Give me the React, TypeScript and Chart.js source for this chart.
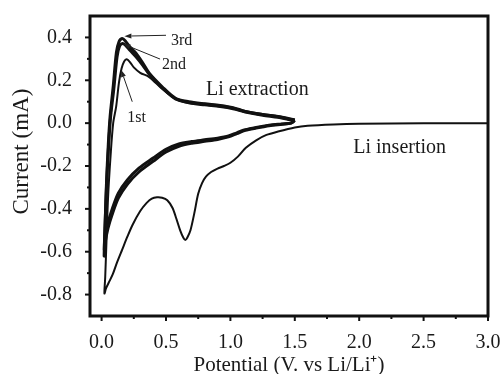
import React, { useEffect, useRef } from "react";
import { Chart, registerables } from "chart.js";
Chart.register(...registerables);

// ---- Data (Potential V vs Li/Li+, Current mA) ----
const cycle1V = [3.0, 2.5, 2.0, 1.8, 1.6, 1.5, 1.37, 1.28, 1.2, 1.12, 1.06, 1.0, 0.95, 0.9, 0.85, 0.81, 0.78, 0.75, 0.72, 0.69, 0.665, 0.65, 0.635, 0.61, 0.58, 0.55, 0.51, 0.47, 0.43, 0.39, 0.35, 0.3, 0.24, 0.2, 0.16, 0.12, 0.087, 0.055, 0.035, 0.022, 0.028, 0.038, 0.05, 0.07, 0.09, 0.113, 0.135, 0.155, 0.175, 0.195, 0.22, 0.25, 0.3, 0.37, 0.47, 0.574, 0.677, 0.8, 0.92, 1.02, 1.115, 1.25, 1.37, 1.45, 1.5];
const cycle1I = [0.0, -0.001, -0.003, -0.006, -0.012, -0.02, -0.039, -0.055, -0.08, -0.115, -0.155, -0.185, -0.2, -0.212, -0.228, -0.25, -0.28, -0.33, -0.42, -0.5, -0.535, -0.545, -0.535, -0.5, -0.445, -0.395, -0.36, -0.348, -0.346, -0.352, -0.372, -0.41, -0.475, -0.53, -0.59, -0.65, -0.705, -0.745, -0.77, -0.795, -0.72, -0.55, -0.35, -0.15, 0.0, 0.077, 0.19, 0.255, 0.288, 0.298, 0.285, 0.26, 0.235, 0.215, 0.16, 0.112, 0.093, 0.083, 0.075, 0.065, 0.05, 0.035, 0.025, 0.015, 0.01];

const cycle2V = [1.5, 1.47, 1.4, 1.3, 1.2, 1.115, 1.05, 0.985, 0.9, 0.8, 0.7, 0.6, 0.5, 0.4, 0.29, 0.2, 0.13, 0.08, 0.05, 0.03, 0.021, 0.028, 0.04, 0.055, 0.07, 0.095, 0.12, 0.14, 0.162, 0.185, 0.22, 0.267, 0.32, 0.37, 0.47, 0.574, 0.677, 0.8, 0.92, 1.02, 1.115, 1.25, 1.37, 1.45, 1.5];
const cycle2I = [0.012, 0.0, -0.004, -0.01, -0.02, -0.031, -0.045, -0.06, -0.07, -0.078, -0.086, -0.097, -0.122, -0.163, -0.21, -0.265, -0.327, -0.405, -0.465, -0.53, -0.59, -0.46, -0.27, -0.1, 0.03, 0.16, 0.31, 0.36, 0.372, 0.364, 0.34, 0.31, 0.27, 0.228, 0.165, 0.113, 0.097, 0.088, 0.08, 0.07, 0.054, 0.04, 0.03, 0.02, 0.014];

const cycle3V = [1.5, 1.47, 1.4, 1.3, 1.2, 1.115, 1.05, 0.985, 0.9, 0.8, 0.7, 0.6, 0.5, 0.4, 0.29, 0.2, 0.13, 0.08, 0.05, 0.03, 0.02, 0.027, 0.038, 0.052, 0.066, 0.09, 0.115, 0.135, 0.16, 0.183, 0.22, 0.267, 0.32, 0.37, 0.47, 0.574, 0.677, 0.8, 0.92, 1.02, 1.115, 1.25, 1.37, 1.45, 1.5];
const cycle3I = [0.014, 0.0, -0.005, -0.012, -0.023, -0.034, -0.049, -0.064, -0.076, -0.085, -0.094, -0.108, -0.135, -0.178, -0.228, -0.285, -0.35, -0.43, -0.49, -0.55, -0.62, -0.48, -0.28, -0.1, 0.03, 0.17, 0.33, 0.38, 0.395, 0.385, 0.355, 0.326, 0.28, 0.233, 0.17, 0.116, 0.1, 0.09, 0.082, 0.072, 0.055, 0.04, 0.031, 0.022, 0.015];

const xTickValues = [0, 0.5, 1.0, 1.5, 2.0, 2.5, 3.0];
const xTickLabels = ["0.0", "0.5", "1.0", "1.5", "2.0", "2.5", "3.0"];
const xMinorTicks = [0.25, 0.75, 1.25, 1.75, 2.25, 2.75];
const yTickValues = [-0.8, -0.6, -0.4, -0.2, 0.0, 0.2, 0.4];
const yTickLabels = ["-0.8", "-0.6", "-0.4", "-0.2", "0.0", "0.2", "0.4"];
const yMinorTicks = [-0.7, -0.5, -0.3, -0.1, 0.1, 0.3];

const noteTexts = ["Li extraction", "Li insertion"];
const noteX = [0.81, 1.954];
const noteY = [0.132, -0.138];

const cycleLabels = ["3rd", "2nd", "1st"];
const cycleLabelX = [0.538, 0.469, 0.2];
const cycleLabelY = [0.364, 0.253, 0.006];
const arrowFromX = [0.5, 0.454, 0.238];
const arrowFromY = [0.41, 0.299, 0.1];
const arrowToX = [0.177, 0.169, 0.152];
const arrowToY = [0.406, 0.369, 0.248];

const FONT = "'Liberation Serif', 'Times New Roman', serif";
const INK = "#1a1a1a";

const pts = (vs: number[], is: number[]) => vs.map((v, k) => ({ x: v, y: is[k] }));
const labelFor = (vals: number[], labels: string[], value: number) => {
  const k = vals.findIndex((t) => Math.abs(t - value) < 1e-6);
  return k >= 0 ? labels[k] : "";
};

const decorPlugin = {
  id: "decor",
  afterDatasetsDraw(chart: any) {
    const { ctx, chartArea, scales } = chart;
    const xs = scales.x;
    const ys = scales.y;
    const { left, right, top, bottom } = chartArea;
    ctx.save();
    ctx.strokeStyle = "#111";
    ctx.lineWidth = 3;
    ctx.strokeRect(left, top, right - left, bottom - top);
    ctx.lineWidth = 2;
    const tickX = (v: number, len: number) => {
      const p = xs.getPixelForValue(v);
      ctx.beginPath();
      ctx.moveTo(p, bottom);
      ctx.lineTo(p, bottom + len);
      ctx.stroke();
    };
    const tickY = (v: number, len: number) => {
      const p = ys.getPixelForValue(v);
      ctx.beginPath();
      ctx.moveTo(left, p);
      ctx.lineTo(left - len, p);
      ctx.stroke();
    };
    xTickValues.forEach((v) => tickX(v, 5));
    xMinorTicks.forEach((v) => tickX(v, 3));
    yTickValues.forEach((v) => tickY(v, 5));
    yMinorTicks.forEach((v) => tickY(v, 3));

    ctx.fillStyle = INK;
    ctx.textAlign = "left";
    ctx.textBaseline = "alphabetic";
    ctx.font = `20px ${FONT}`;
    noteTexts.forEach((t, k) => {
      ctx.fillText(t, xs.getPixelForValue(noteX[k]), ys.getPixelForValue(noteY[k]));
    });
    ctx.font = `16px ${FONT}`;
    cycleLabels.forEach((t, k) => {
      ctx.fillText(t, xs.getPixelForValue(cycleLabelX[k]), ys.getPixelForValue(cycleLabelY[k]));
    });
    ctx.strokeStyle = "#222";
    ctx.fillStyle = "#222";
    ctx.lineWidth = 1;
    cycleLabels.forEach((_, k) => {
      const x0 = xs.getPixelForValue(arrowFromX[k]);
      const y0 = ys.getPixelForValue(arrowFromY[k]);
      const x1 = xs.getPixelForValue(arrowToX[k]);
      const y1 = ys.getPixelForValue(arrowToY[k]);
      const ang = Math.atan2(y1 - y0, x1 - x0);
      const hl = 7;
      const hw = 2.5;
      const bx = x1 - hl * Math.cos(ang);
      const by = y1 - hl * Math.sin(ang);
      ctx.beginPath();
      ctx.moveTo(x0, y0);
      ctx.lineTo(bx, by);
      ctx.stroke();
      ctx.beginPath();
      ctx.moveTo(x1, y1);
      ctx.lineTo(bx + hw * Math.sin(ang), by - hw * Math.cos(ang));
      ctx.lineTo(bx - hw * Math.sin(ang), by + hw * Math.cos(ang));
      ctx.closePath();
      ctx.fill();
    });
    ctx.restore();
  },
};

export default function App() {
  const ref = useRef<HTMLCanvasElement | null>(null);
  useEffect(() => {
    if (!ref.current) return;
    const lineDs = (vs: number[], is: number[], w: number) => ({
      data: pts(vs, is),
      showLine: true,
      borderColor: "#111",
      backgroundColor: "#111",
      borderWidth: w,
      pointRadius: 0,
      tension: 0.3,
      fill: false,
    });
    const chart = new Chart(ref.current, {
      type: "scatter",
      data: {
        datasets: [
          lineDs(cycle1V, cycle1I, 2),
          lineDs(cycle2V, cycle2I, 3),
          lineDs(cycle3V, cycle3I, 3),
        ],
      },
      options: {
        responsive: false,
        animation: false,
        devicePixelRatio: 1,
        layout: { padding: { left: 0, top: 16, right: 13, bottom: 0 } },
        plugins: { legend: { display: false }, tooltip: { enabled: false } },
        scales: {
          x: {
            type: "linear",
            min: -0.09,
            max: 3.0,
            afterFit: (s: any) => {
              s.height = 58;
              s.paddingLeft = 0;
              s.paddingRight = 0;
              s.paddingTop = 0;
              s.paddingBottom = 0;
            },
            afterBuildTicks: (s: any) => {
              s.ticks = xTickValues.map((v) => ({ value: v }));
            },
            ticks: {
              autoSkip: false,
              maxRotation: 0,
              padding: 7,
              color: INK,
              font: { family: FONT, size: 20 },
              callback: (v: any) => labelFor(xTickValues, xTickLabels, Number(v)),
            },
            grid: { display: false },
            border: { display: false },
            title: {
              display: true,
              text: "Potential (V. vs Li/Li\u207A)",
              color: INK,
              font: { family: FONT, size: 21, lineHeight: 0.85 },
              padding: { top: 0, bottom: 0 },
            },
          },
          y: {
            type: "linear",
            min: -0.9,
            max: 0.5,
            afterFit: (s: any) => {
              s.width = 90;
              s.paddingLeft = 0;
              s.paddingRight = 0;
              s.paddingTop = 0;
              s.paddingBottom = 0;
            },
            afterBuildTicks: (s: any) => {
              s.ticks = yTickValues.map((v) => ({ value: v }));
            },
            ticks: {
              autoSkip: false,
              padding: 10,
              color: INK,
              font: { family: FONT, size: 20 },
              callback: (v: any) => labelFor(yTickValues, yTickLabels, Number(v)),
            },
            grid: { display: false },
            border: { display: false },
            title: {
              display: true,
              text: "     Current (mA)",
              color: INK,
              font: { family: FONT, size: 23, lineHeight: 1 },
              padding: { top: 10, bottom: 0 },
            },
          },
        },
      },
      plugins: [decorPlugin],
    } as any);
    return () => chart.destroy();
  }, []);
  return (
    <div style={{ position: "absolute", left: 0, top: 0, width: 501, height: 374, background: "#fff" }}>
      <canvas ref={ref} width={501} height={374} style={{ display: "block" }} />
    </div>
  );
}
